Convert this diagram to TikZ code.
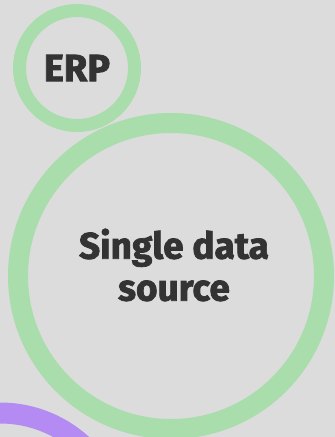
\documentclass[tikz,border=0pt]{standalone}
\usepackage{fontspec}
\newfontfamily\heavyfont{Fira Sans}[BoldFeatures={FakeBold=2}]
\usetikzlibrary{positioning}
\definecolor{bgray}{HTML}{DCDCDC}
\definecolor{ringgreen}{HTML}{A9DDAC}
\definecolor{ringpurple}{HTML}{B38BF2}
\definecolor{inkgray}{HTML}{333333}
\tikzset{
  ring/.style={circle, draw=ringgreen, inner sep=0pt},
  caption/.style={text=inkgray, align=center, inner sep=0pt}
}
\begin{document}
\begin{tikzpicture}[x=1pt, y=-1pt]
    \fill[bgray] (0,0) rectangle (335,437);
    \useasboundingbox (0,0) rectangle (335,437);
    \begin{scope}
        \clip (0,0) rectangle (335,437);
        \node[ring, draw=ringpurple, line width=21pt, minimum size=244pt] (hub) at (0,535) {};
        \node[ring, line width=20pt, minimum size=306pt] (source) at (171,276) {};
        \node[ring, line width=13pt, minimum size=115pt] (erp) at (77,68) {};
    \end{scope}
    \node[caption, font=\heavyfont\bfseries\fontsize{38}{38}\selectfont] (erplabel) at (erp) {ERP};
    \node[caption, font=\heavyfont\bfseries\fontsize{37}{42}\selectfont] (sourcelabel) at (174,265) {Single data\\source};
\end{tikzpicture}
\end{document}
